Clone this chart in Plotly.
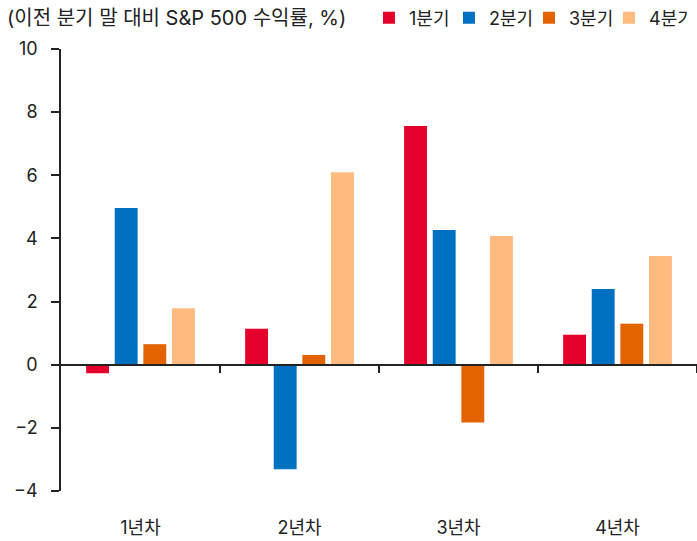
import plotly.graph_objects as go

categories = ["1년차", "2년차", "3년차", "4년차"]
series_names = ["1분기", "2분기", "3분기", "4분기"]
q1 = [-0.27, 1.14, 7.56, 0.95]
q2 = [4.96, -3.31, 4.27, 2.40]
q3 = [0.65, 0.31, -1.83, 1.30]
q4 = [1.79, 6.10, 4.08, 3.44]
colors = ["#E4002B", "#0070C0", "#E26300", "#FFBA80"]
y_ticks = [-4, -2, 0, 2, 4, 6, 8, 10]
title_text = "(이전 분기 말 대비 S&P 500 수익률, %)"

FONT = "Inter, Noto Sans CJK KR"
W, H = 697, 541
L, R, T, B = 61, 0, 49, 50
PW, PH = W - L - R, H - T - B

fig = go.Figure()
xpos = list(range(len(categories)))
for name, vals, c in zip(series_names, [q1, q2, q3, q4], colors):
    fig.add_trace(go.Bar(x=xpos, y=vals, name=name, marker_color=c,
                         marker_line_width=0))

ymin, ymax = -4, 10
fig.update_layout(
    width=W, height=H,
    margin=dict(l=L, r=R, t=T, b=B, autoexpand=False),
    paper_bgcolor="white", plot_bgcolor="white",
    font=dict(family=FONT, size=18, color="#222222"),
    barmode="group", bargap=0.28, bargroupgap=0.2,
    showlegend=True,
    legend=dict(orientation="h", x=(369 - L) / PW, xanchor="left",
                yref="container", y=1 - 18 / H, yanchor="middle",
                font=dict(size=18), itemwidth=30, tracegroupgap=0,
                bgcolor="rgba(0,0,0,0)", traceorder="normal",
                entrywidth=35, entrywidthmode="pixels"),
    xaxis=dict(range=[-0.5, len(categories) - 0.5], tickvals=xpos,
               ticktext=categories, showline=False, showgrid=False,
               zeroline=False, ticks="outside", ticklen=20,
               tickcolor="rgba(0,0,0,0)", tickfont=dict(size=18),
               automargin=False),
    xaxis2=dict(overlaying="x", anchor="free",
                position=(0 - ymin) / (ymax - ymin),
                range=[-0.5, len(categories) - 0.5],
                tickvals=[i + 0.5 for i in xpos], showticklabels=False,
                ticks="outside", ticklen=8, tickwidth=1.5, tickcolor="#222222",
                showline=True, linecolor="#222222", linewidth=1.5,
                showgrid=False, zeroline=False, automargin=False),
    yaxis=dict(range=[ymin, ymax], tickvals=y_ticks,
               ticktext=[str(v).replace("-", "−") for v in y_ticks],
               showline=True, linecolor="#222222", linewidth=1.5,
               ticks="outside", ticklen=8, tickwidth=1.5, tickcolor="#222222",
               showgrid=False, zeroline=False, ticklabelstandoff=10,
               tickfont=dict(size=18), automargin=False),
)
fig.add_trace(go.Scatter(x=[None], y=[None], xaxis="x2", yaxis="y",
                         showlegend=False, hoverinfo="skip"))

fig.add_annotation(text=title_text, xref="paper", yref="paper",
                   x=(5 - L) / PW, xanchor="left",
                   y=1 + (T - 18) / PH, yanchor="middle", showarrow=False,
                   font=dict(size=20, family=FONT, color="#222222"))

fig.write_html("out.html",
               config={"displayModeBar": False},
               post_script="document.body.style.margin='0';"
                           "document.body.style.overflow='hidden';")
